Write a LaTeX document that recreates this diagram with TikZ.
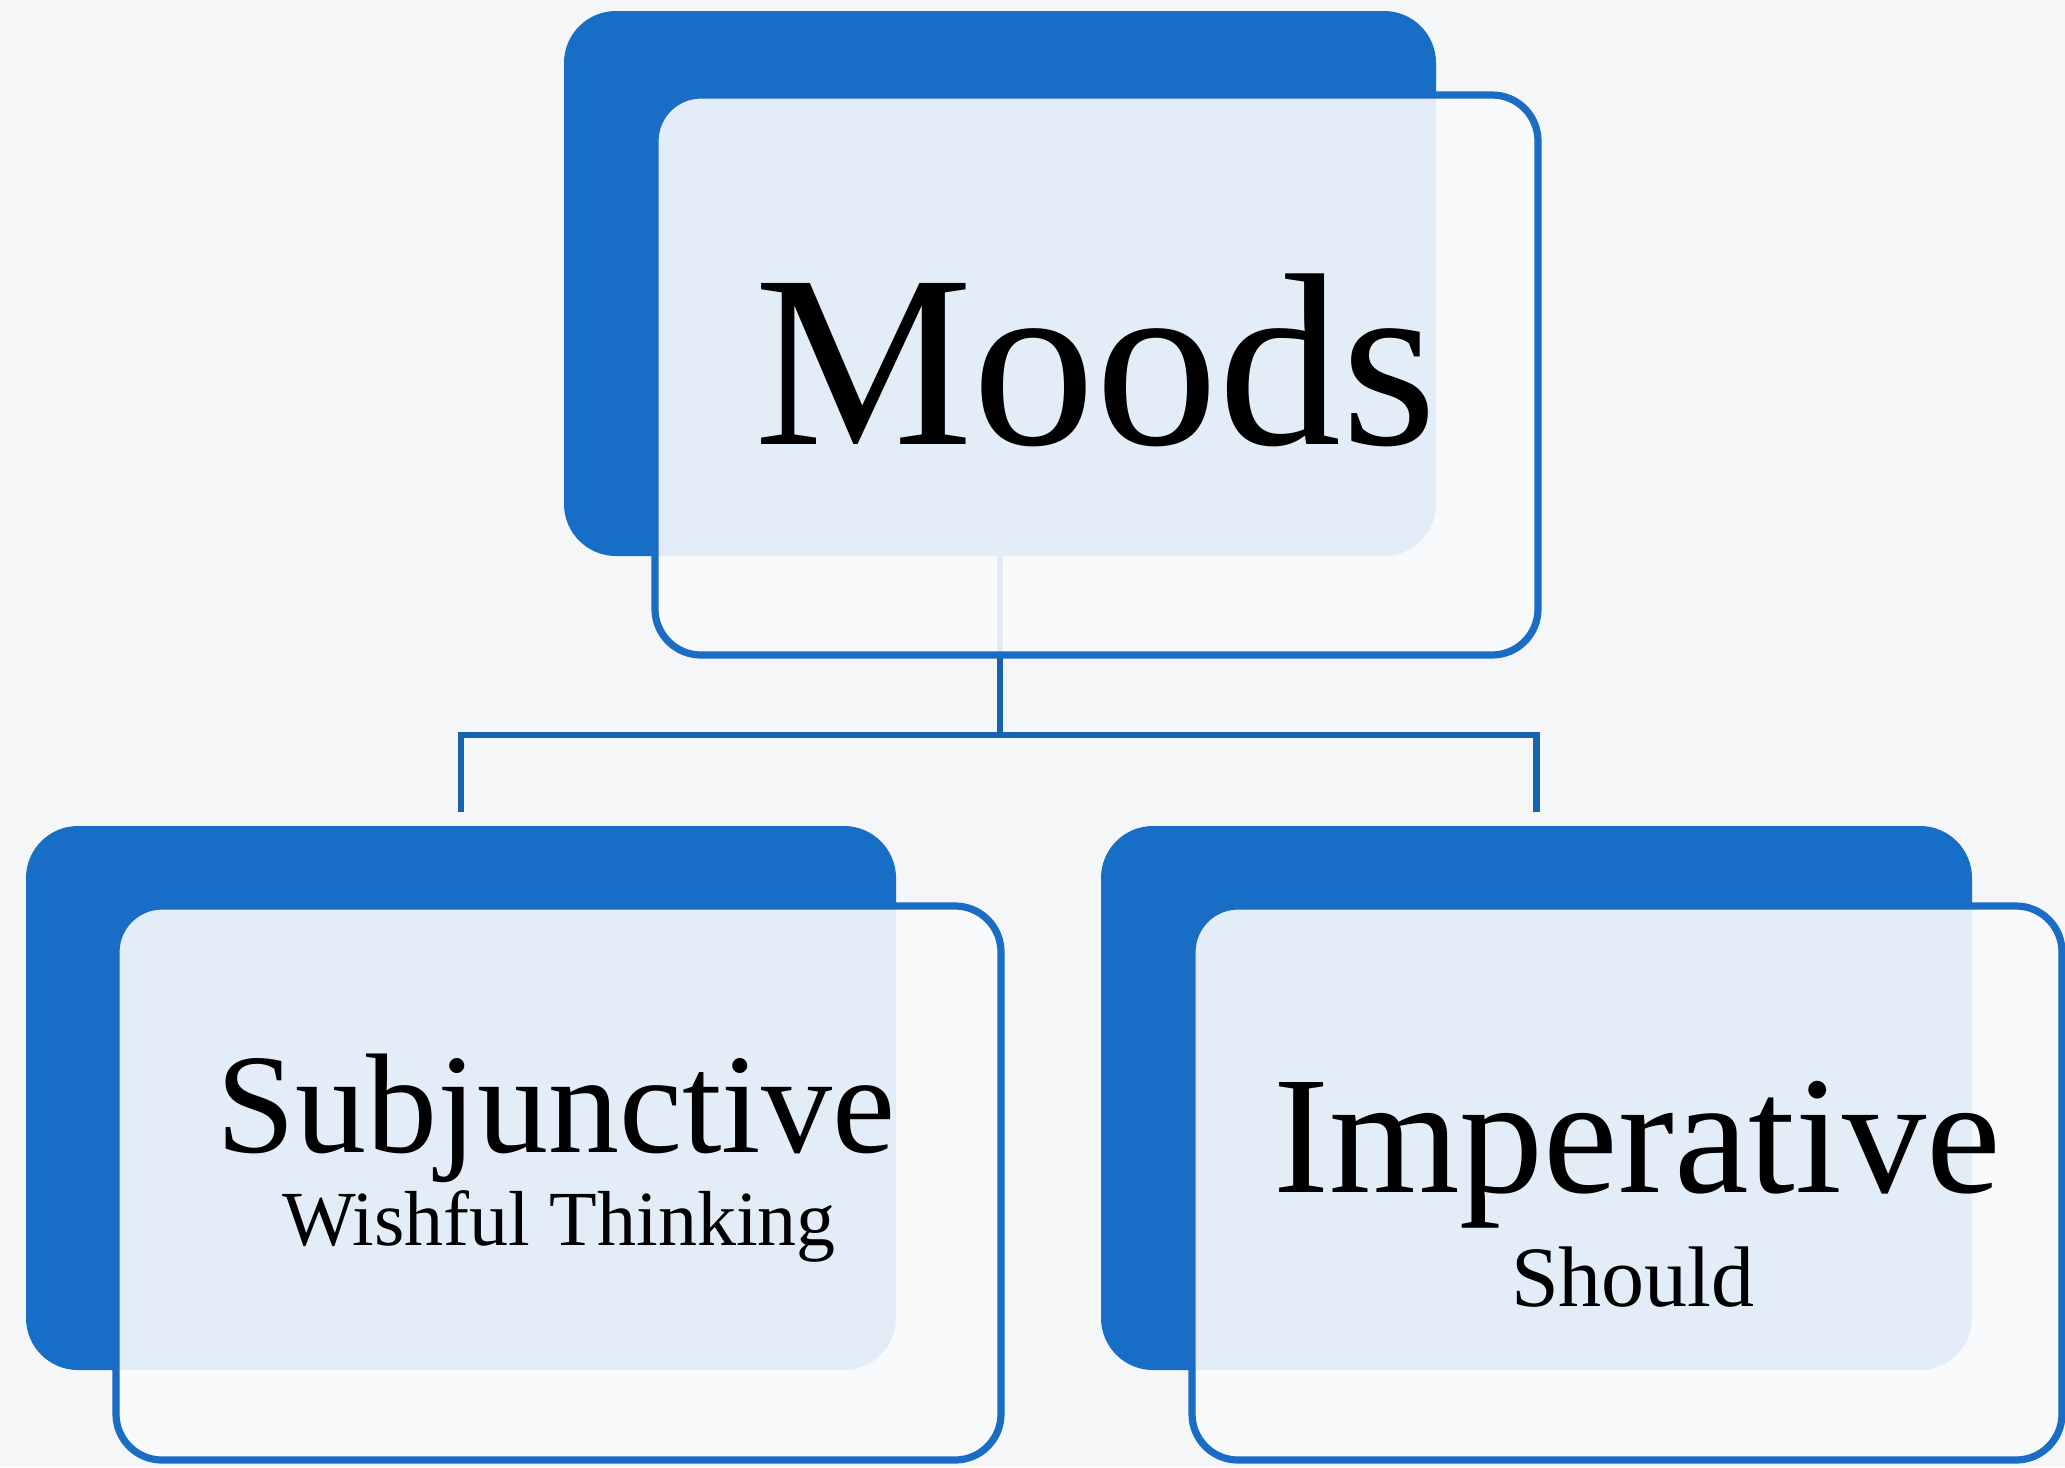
\documentclass[tikz,border=0pt]{standalone}
\usepackage{fontspec}
\setmainfont{Liberation Serif}
\usetikzlibrary{backgrounds}
\definecolor{bgc}{HTML}{F5F6F8}
\definecolor{darkblue}{HTML}{176EC6}
\definecolor{edgeblue}{HTML}{1A6CC4}
\definecolor{connblue}{HTML}{1762B4}
\definecolor{frontc}{HTML}{FAFBFD}
\tikzset{
  darkbox/.style={rectangle, rounded corners=26pt, fill=darkblue, draw=none, inner sep=0pt, outer sep=0pt},
  frontbox/.style={rectangle, rounded corners=23pt, fill=frontc, fill opacity=0.9, draw=edgeblue, draw opacity=1, line width=3.6pt, inner sep=0pt, outer sep=0pt},
  conn/.style={draw=connblue, line width=3.2pt},
  lbl/.style={anchor=base, inner sep=0pt, text=black}
}
\begin{document}
\begin{tikzpicture}[x=0.5pt, y=-0.5pt]
\useasboundingbox (0,0) rectangle (2065,1467);
% back boxes
\node[darkbox, minimum width=436pt, minimum height=272.5pt] (topdark) at (1000,283.5) {};
\node[darkbox, minimum width=435pt, minimum height=272pt] (leftdark) at (461,1098) {};
\node[darkbox, minimum width=435.5pt, minimum height=272pt] (rightdark) at (1536.5,1098) {};
% background and connectors
\coordinate (bus) at (1000,735);
\begin{scope}[on background layer]
\fill[bgc] (0,0) rectangle (2065,1467);
\draw[conn] (topdark.south) -- (bus);
\draw[conn] ([yshift=7pt]leftdark.north) |- (bus) -| ([yshift=7pt]rightdark.north);
\end{scope}
% front boxes
\node[frontbox, minimum width=441.5pt, minimum height=280pt] (topfront) at (1096.5,375) {};
\node[frontbox, minimum width=442.5pt, minimum height=277pt] (leftfront) at (558.5,1183) {};
\node[frontbox, minimum width=435pt, minimum height=277pt] (rightfront) at (1627,1183) {};
% labels
\node[lbl, font=\fontsize{123}{130}\selectfont] (moods) at (1096,444) {Moods};
\node[lbl, font=\fontsize{71}{76}\selectfont] (subj) at (556,1152) {Subjunctive};
\node[lbl, font=\fontsize{39}{42}\selectfont] (wish) at (559,1245) {Wishful Thinking};
\node[lbl, font=\fontsize{84}{90}\selectfont] (imp) at (1637,1192) {Imperative};
\node[lbl, font=\fontsize{43}{46}\selectfont] (should) at (1633,1306) {Should};
\end{tikzpicture}
\end{document}
